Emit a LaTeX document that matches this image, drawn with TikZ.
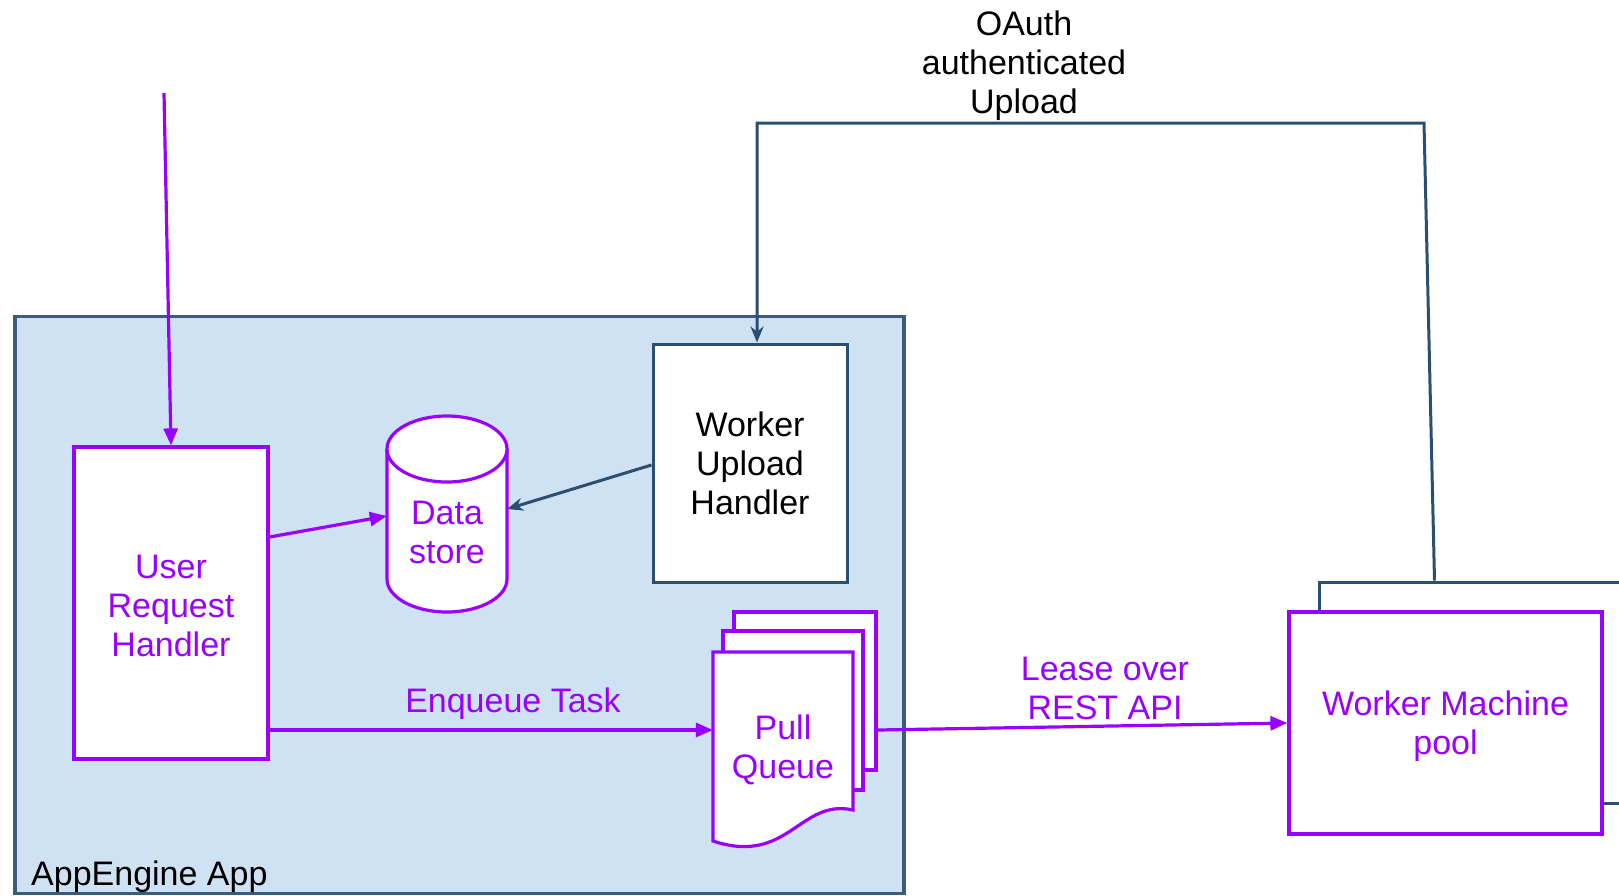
\documentclass[tikz,border=0pt]{standalone}
\usepackage{fontspec}
\setmainfont{Liberation Sans}
\usetikzlibrary{arrows.meta,calc}

\definecolor{vio}{HTML}{9900FF}
\definecolor{navy}{HTML}{2B4F70}
\definecolor{appfill}{HTML}{CFE2F3}
\definecolor{appedge}{HTML}{3A5B7C}

\tikzset{
  every node/.style={font=\fontsize{34}{39}\selectfont, inner sep=0pt, align=center},
  appbox/.style={draw=appedge, fill=appfill, line width=3.2pt},
  vbox/.style={draw=vio, fill=white, line width=3.2pt, text=vio},
  nbox/.style={draw=navy, fill=white, line width=3pt, text=black},
  vlabel/.style={text=vio},
  blabel/.style={text=black},
  ghost/.style={draw=none, fill=none},
  parrow/.style={draw=vio, line width=3.2pt, -{Triangle[length=17pt,width=14pt]}},
  narrow/.style={draw=navy, line width=3pt, -{Stealth[length=16pt,width=13pt]}},
}

\begin{document}
\begin{tikzpicture}[x=1pt, y=-1pt]
\useasboundingbox (0,0) rectangle (1619,895);

% AppEngine container
\node[appbox, minimum width=889pt, minimum height=577pt] (app) at (459.5,605) {};
\node[blabel, anchor=base west] (applabel) at (31,885) {AppEngine App};

% handlers
\node[vbox, minimum width=194pt, minimum height=312pt] (urh) at (171,603) {};
\node[vlabel] (urhlabel) at (171,606) {User\\Request\\Handler};
\node[nbox, minimum width=194pt, minimum height=238pt] (wuh) at (750,463) {Worker\\Upload\\Handler};

% data store cylinder
\fill[white] (387,449) -- (387,579) arc[start angle=180, end angle=0, x radius=60, y radius=33] -- (507,449) -- cycle;
\draw[vio, line width=3.2pt] (387,449) -- (387,579) arc[start angle=180, end angle=0, x radius=60, y radius=33] -- (507,449);
\draw[vio, line width=3.2pt, fill=white] (447,449) ellipse[x radius=60, y radius=33];
\node[ghost, minimum width=120pt, minimum height=196pt] (ds) at (447,514) {};
\node[vlabel] (dslabel) at (447,532) {Data\\store};

% pull queue: stacked sheets
\node[vbox, minimum width=142pt, minimum height=158pt] (pq3) at (805,691) {};
\node[vbox, minimum width=140pt, minimum height=159pt] (pq2) at (793,710.5) {};
\draw[vio, line width=3.2pt, fill=white]
  (713,652) -- (853,652) -- (853,810)
  .. controls (800,798) and (788,866) .. (713,841) -- cycle;
\node[ghost, minimum width=140pt, minimum height=196pt] (pq) at (783,750) {};
\node[vlabel] (pqlabel) at (783,750) {Pull\\Queue};

% worker machine pool
\node[nbox, minimum width=313pt, minimum height=221pt] (wmpback) at (1475.5,692.5) {};
\node[vbox, minimum width=313pt, minimum height=222pt] (wmp) at (1445.5,723) {};
\node[vlabel] (wmplabel) at (1445.5,726) {Worker Machine\\pool};

% connectors
\coordinate (user) at (164,93);
\draw[parrow] (user) -- (urh.north);
\draw[parrow] (urh.east |- 0,537) -- (ds.west |- 0,516);
\draw[narrow] (wuh.west |- 0,465) -- (ds.east |- 0,509);
\draw[parrow] (urh.east |- 0,730) -- (pq.west |- 0,730);
\node[vlabel] (enq) at (513,704) {Enqueue Task};
\draw[parrow] (pq3.east |- 0,730) -- (wmp.west |- 0,723);
\node[vlabel] (lease) at (1105,688) {Lease over\\REST API};

\coordinate (up1) at (1424,123);
\coordinate (up2) at (757,123);
\draw[narrow] ($(wmpback.north west)+(117,0)$) -- (up1) -- (up2) -- (up2 |- wuh.north);
\node[blabel] (oauth) at (1024,66) {OAuth\\authenticated\\Upload};
\end{tikzpicture}
\end{document}
